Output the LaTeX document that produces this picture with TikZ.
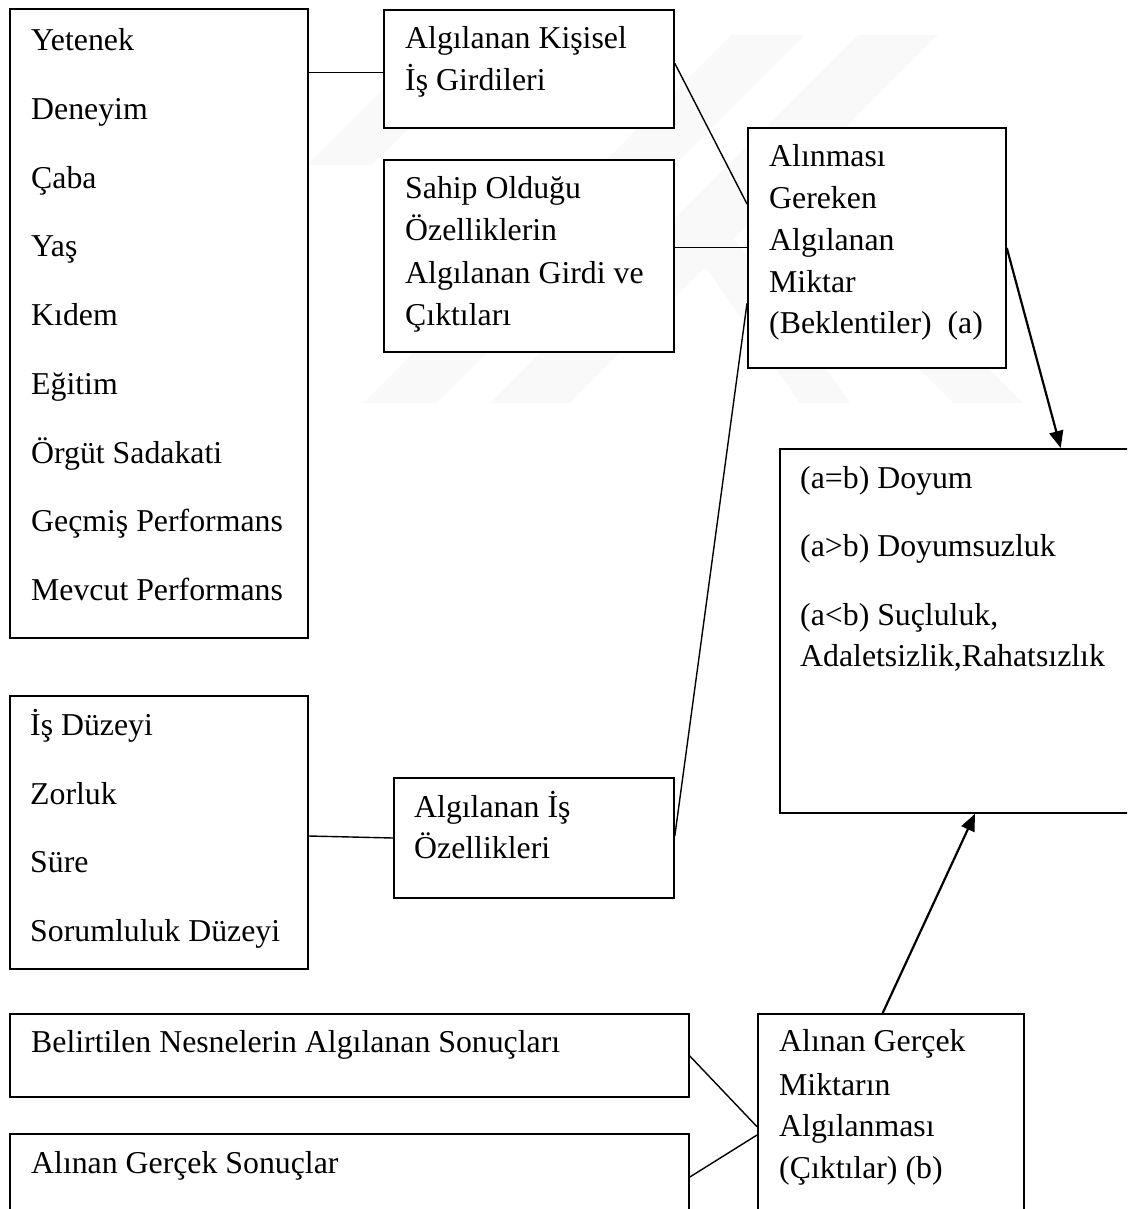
\documentclass[tikz,border=0pt]{standalone}
\usepackage{fontspec}
\setmainfont{Liberation Serif}
\usetikzlibrary{calc,arrows.meta}
\begin{document}
\begin{tikzpicture}[x=1pt,y=-1pt,
  box/.style={draw, line width=1.8pt, fill=white, inner sep=0pt, anchor=north west},
  lbl/.style={font=\fontsize{31.8}{41.7}\selectfont, inner sep=0pt, anchor=base west},
  link/.style={line width=1.4pt},
  arr/.style={line width=2.2pt, -{Triangle[length=17pt,width=14pt]}},
  wm/.style={fill=gray!5, draw=none}]
\useasboundingbox (0,0) rectangle (1127,1209);
\clip (0,0) rectangle (1127,1209);

% faint background emblem
\fill[wm] (307,165) -- (372,165) -- (502,35) -- (437,35) -- cycle;
\fill[wm] (363,403) -- (437,403) -- (805,35) -- (731,35) -- cycle;
\fill[wm] (490,403) -- (570,403) -- (938,35) -- (858,35) -- cycle;
\fill[wm] (687,240) -- (735,240) -- (850,403) -- (800,403) -- cycle;
\fill[wm] (880,330) -- (950,330) -- (1023,403) -- (953,403) -- cycle;

% boxes
\node[box, minimum width=298pt, minimum height=629pt] (bl) at (9,8) {};
\node[box, minimum width=290pt, minimum height=118pt] (bk) at (383,9) {};
\node[box, minimum width=290pt, minimum height=192pt] (bs) at (383,159) {};
\node[box, minimum width=258pt, minimum height=240pt] (ba) at (747,127) {};
\node[box, minimum width=361pt, minimum height=364pt] (br) at (779,448) {};
\node[box, minimum width=298pt, minimum height=273pt] (bd) at (9,695) {};
\node[box, minimum width=280pt, minimum height=120pt] (bo) at (393,777) {};
\node[box, minimum width=679pt, minimum height=83pt] (bb) at (9,1013) {};
\node[box, minimum width=679pt, minimum height=97pt] (bg) at (9,1133) {};
\node[box, minimum width=266pt, minimum height=217pt] (bm) at (757,1013) {};

% left list
\node[lbl] (l1) at (31,50.7) {Yetenek};
\node[lbl] (l2) at (31,119.45) {Deneyim};
\node[lbl] (l3) at (31,188.2) {Çaba};
\node[lbl] (l4) at (31,256.95) {Yaş};
\node[lbl] (l5) at (31,325.7) {Kıdem};
\node[lbl] (l6) at (31,394.45) {Eğitim};
\node[lbl] (l7) at (31,463.2) {Örgüt Sadakati};
\node[lbl] (l8) at (31,531.95) {Geçmiş Performans};
\node[lbl] (l9) at (31,600.7) {Mevcut Performans};

\node[lbl] (k1) at (405,48.3) {Algılanan Kişisel};
\node[lbl] (k2) at (405,90.7) {İş Girdileri};

\node[lbl] (s1) at (405,198.3) {Sahip Olduğu};
\node[lbl] (s2) at (405,240.7) {Özelliklerin};
\node[lbl] (s3) at (405,283.3) {Algılanan Girdi ve};
\node[lbl] (s4) at (405,325) {Çıktıları};

\node[lbl] (a1) at (769,166.7) {Alınması};
\node[lbl] (a2) at (769,208.3) {Gereken};
\node[lbl] (a3) at (769,250) {Algılanan};
\node[lbl] (a4) at (769,292) {Miktar};
\node[lbl] (a5) at (769,333.5) {(Beklentiler)\ \ (a)};

\node[lbl] (r1) at (800,488.3) {(a=b) Doyum};
\node[lbl] (r2) at (800,556.7) {(a>b) Doyumsuzluk};
\node[lbl] (r3) at (800,625) {(a<b) Suçluluk,};
\node[lbl] (r4) at (800,666.7) {Adaletsizlik,Rahatsızlık};

\node[lbl] (d1) at (30,735) {İş Düzeyi};
\node[lbl] (d2) at (30,804) {Zorluk};
\node[lbl] (d3) at (30,872) {Süre};
\node[lbl] (d4) at (30,941) {Sorumluluk Düzeyi};

\node[lbl] (o1) at (414,817) {Algılanan İş};
\node[lbl] (o2) at (414,858.7) {Özellikleri};

\node[lbl] (n1) at (31,1052) {Belirtilen Nesnelerin Algılanan Sonuçları};
\node[lbl] (g1) at (31,1173) {Alınan Gerçek Sonuçlar};

\node[lbl] (m1) at (779,1051.7) {Alınan Gerçek};
\node[lbl] (m2) at (779,1095) {Miktarın};
\node[lbl] (m3) at (779,1136.7) {Algılanması};
\node[lbl] (m4) at (779,1178.3) {(Çıktılar) (b)};

% connectors
\draw[link] ($(bl.north east)+(0,64.7)$) -- ($(bk.north west)+(0,63.7)$);
\draw[link] ($(bk.north east)+(0,54.3)$) -- ($(ba.north west)+(0,77)$);
\draw[link] ($(bs.north east)+(0,88.7)$) -- ($(ba.north west)+(0,120.7)$);
\draw[link] ($(bo.north east)+(0,59)$) -- ($(ba.north west)+(0,176.3)$);
\draw[link] ($(bd.north east)+(0,141)$) -- ($(bo.north west)+(0,61)$);
\draw[link] ($(bb.north east)+(0,43)$) -- ($(bm.north west)+(0,113.7)$);
\draw[link] ($(bg.north east)+(0,44)$) -- ($(bm.north west)+(0,122)$);
\draw[arr] ($(ba.north east)+(0,121)$) -- ($(br.north west)+(281.7,0)$);
\draw[arr] ($(bm.north west)+(125.7,0)$) -- ($(br.south west)+(196,0)$);
\end{tikzpicture}
\end{document}
